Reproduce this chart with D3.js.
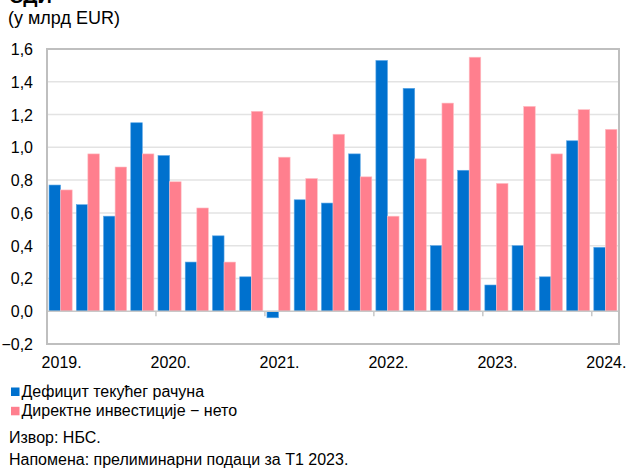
<!DOCTYPE html>
<html>
<head>
<meta charset="utf-8">
<script src="https://cdn.jsdelivr.net/npm/d3@7"></script>
<style>
  body { margin: 0; background: #fff; }
  svg text { font-family: Arial, "Liberation Sans", sans-serif; fill: #000; }
</style>
</head>
<body>
<svg id="chart" width="626" height="471"></svg>
<script>
// quarterly data, 2019 Q1 .. 2024 Q1
var quarters = ["2019Q1","2019Q2","2019Q3","2019Q4","2020Q1","2020Q2","2020Q3","2020Q4",
                "2021Q1","2021Q2","2021Q3","2021Q4","2022Q1","2022Q2","2022Q3","2022Q4",
                "2023Q1","2023Q2","2023Q3","2023Q4","2024Q1"];
var deficit = [0.77, 0.65, 0.58, 1.15, 0.95, 0.30, 0.46, 0.21,
               -0.04, 0.68, 0.66, 0.96, 1.53, 1.36, 0.40, 0.86,
               0.16, 0.40, 0.21, 1.04, 0.39];
var fdi = [0.74, 0.96, 0.88, 0.96, 0.79, 0.63, 0.30, 1.22,
           0.94, 0.81, 1.08, 0.82, 0.58, 0.93, 1.27, 1.55,
           0.78, 1.25, 0.96, 1.23, 1.11];
var yTicks = [-0.2, 0, 0.2, 0.4, 0.6, 0.8, 1.0, 1.2, 1.4, 1.6];
var yearLabels = ["2019.", "2020.", "2021.", "2022.", "2023.", "2024."];
var seriesNames = ["Дефицит текућег рачуна", "Директне инвестиције − нето"];
var colors = ["#0071CE", "#FF7F8E"];

function makeChart(id) {
    var svg = d3.select("#" + id);
    var left = 47, right = 619, plotTop = 49, plotBottom = 344;

    var x = d3.scaleBand().domain(quarters).range([left, right]).paddingInner(0.15).paddingOuter(0.075);
    var step = x.step();
    var xSub = d3.scaleBand().domain([0, 1]).range([0, x.bandwidth()]);
    var y = d3.scaleLinear().domain([-0.2, 1.6]).range([plotBottom, plotTop]);

    function fmt(v) { return d3.format(".1f")(v).replace(".", ","); }

    // gridlines
    svg.append("g").selectAll("line")
        .data(yTicks.filter(function(t) { return t > -0.2 && t < 1.6 && t !== 0; }))
        .join("line")
        .attr("x1", left).attr("x2", right)
        .attr("y1", function(d) { return y(d); }).attr("y2", function(d) { return y(d); })
        .attr("stroke", "#e3e3e3").attr("stroke-width", 1.5);

    // bars
    [deficit, fdi].forEach(function(vals, si) {
        svg.append("g").selectAll("rect").data(vals)
            .join("rect")
            .attr("x", function(d, i) { return x(quarters[i]) + xSub(si); })
            .attr("width", xSub.bandwidth())
            .attr("y", function(d) { return y(Math.max(0, d)); })
            .attr("height", function(d) { return Math.abs(y(d) - y(0)); })
            .attr("fill", colors[si])
            .attr("stroke", si === 0 ? "#5aa6e6" : "#ffc0c6")
            .attr("stroke-width", 0.6);
    });

    // zero line
    svg.append("line")
        .attr("x1", left).attr("x2", right).attr("y1", y(0)).attr("y2", y(0))
        .attr("stroke", "#c8c8c8").attr("stroke-width", 1.5);

    // year tick marks on the zero line
    var yearStarts = quarters.filter(function(q, i) { return i % 4 === 0 && i > 0; });
    svg.append("g").selectAll("line").data(yearStarts)
        .join("line")
        .attr("x1", function(d) { return x(d) - step * x.paddingInner() / 2; })
        .attr("x2", function(d) { return x(d) - step * x.paddingInner() / 2; })
        .attr("y1", y(0)).attr("y2", y(0) + 5)
        .attr("stroke", "#c8c8c8").attr("stroke-width", 1.5);

    // frame
    svg.append("rect")
        .attr("x", left).attr("y", plotTop).attr("width", right - left).attr("height", plotBottom - plotTop)
        .attr("fill", "none").attr("stroke", "#bfbfbf").attr("stroke-width", 2);

    // y axis labels
    svg.append("g").selectAll("text").data(yTicks)
        .join("text")
        .attr("x", 33).attr("y", function(d) { return y(d) + 6; })
        .attr("text-anchor", "end").attr("font-size", 16)
        .text(fmt);

    // x axis labels at Q1 of each year
    svg.append("g").selectAll("text").data(yearLabels)
        .join("text")
        .attr("x", function(d, i) { return x(quarters[i * 4]) + x.bandwidth() / 2 + 1; })
        .attr("y", 368)
        .attr("text-anchor", "middle").attr("font-size", 16)
        .text(function(d) { return d; });

    // title and unit
    svg.append("text").attr("x", 9).attr("y", 3).attr("font-size", 20).attr("font-weight", "bold").text("СДИ");
    svg.append("text").attr("x", 8).attr("y", 24).attr("font-size", 18).text("(у млрд EUR)");

    // legend
    var legend = svg.append("g").selectAll("g").data(seriesNames)
        .join("g")
        .attr("transform", function(d, i) { return "translate(11," + (387.5 + i * 19.3) + ")"; });
    legend.append("rect").attr("width", 8.5).attr("height", 8.5)
        .attr("fill", function(d, i) { return colors[i]; });
    legend.append("text").attr("x", 10.5).attr("y", 9.3).attr("font-size", 16).text(function(d) { return d; });

    // notes
    svg.append("text").attr("x", 9).attr("y", 443).attr("font-size", 16).text("Извор: НБС.");
    svg.append("text").attr("x", 9).attr("y", 465).attr("font-size", 16).text("Напомена: прелиминарни подаци за Т1 2023.");
}

makeChart("chart");
</script>
</body>
</html>
